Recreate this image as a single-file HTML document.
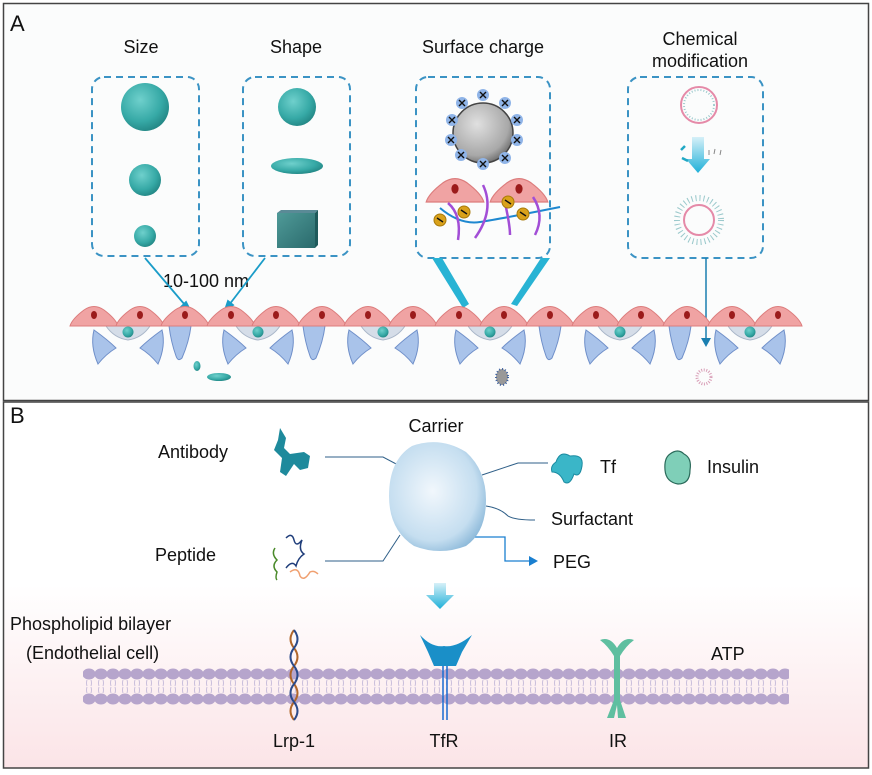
<!DOCTYPE html>
<html><head><meta charset="utf-8"><style>
html,body{margin:0;padding:0;background:#fff}
svg{display:block}
text{font-family:"Liberation Sans",Arial,sans-serif;fill:#111}
</style></head><body>
<svg width="872" height="775" viewBox="0 0 872 775" xmlns="http://www.w3.org/2000/svg">
<defs>
<radialGradient id="teal" cx="0.4" cy="0.35" r="0.75"><stop offset="0" stop-color="#6fd0cc"/><stop offset="0.6" stop-color="#36a9a6"/><stop offset="1" stop-color="#1d7c7b"/></radialGradient>
<radialGradient id="gray" cx="0.4" cy="0.35" r="0.75"><stop offset="0" stop-color="#e0e0e0"/><stop offset="0.7" stop-color="#a8a8a8"/><stop offset="1" stop-color="#555"/></radialGradient>
<radialGradient id="carrier" cx="0.45" cy="0.45" r="0.65"><stop offset="0" stop-color="#f1f7fc"/><stop offset="0.7" stop-color="#c5def0"/><stop offset="1" stop-color="#7fb0d4"/></radialGradient>
<linearGradient id="pinkbg" x1="0" y1="0" x2="0" y2="1"><stop offset="0" stop-color="#fff"/><stop offset="0.5" stop-color="#fff"/><stop offset="1" stop-color="#fbe4e7"/></linearGradient>
<linearGradient id="arr" x1="0" y1="0" x2="0" y2="1"><stop offset="0" stop-color="#d6f0f8"/><stop offset="1" stop-color="#1fb0d8"/></linearGradient>
<linearGradient id="cube" x1="0" y1="0" x2="1" y2="1"><stop offset="0" stop-color="#4f9a98"/><stop offset="1" stop-color="#2a6a6c"/></linearGradient>
<g id="pink"><path d="M-24,10 Q-22,3 -10,-6 Q0,-13 10,-6 Q22,3 24,10 Z" fill="#f0a3a3" stroke="#dc7c7c" stroke-width="1"/><ellipse cx="0" cy="-1" rx="3" ry="4" fill="#9b1b1b"/></g>
<g id="bt"><path d="M-11,0 L11,0 Q9,16 2,32 Q-2,36 -4,30 Q-9,16 -11,0Z" fill="#a9c3ea" stroke="#6f8fc9" stroke-width="1"/></g>
<g id="pair">
<path d="M-22,0 L22,0 Q14,12 0,14 Q-14,12 -22,0Z" fill="#d5dde8" stroke="#a9b6c8"/>
<circle cx="0" cy="6" r="5.5" fill="url(#teal)"/>
<path d="M-34,4 Q-20,14 -12,22 Q-22,28 -30,38 Q-38,20 -34,4Z" fill="#a9c3ea" stroke="#6f8fc9"/>
<path d="M34,4 Q20,14 12,22 Q22,28 30,38 Q38,20 34,4Z" fill="#a9c3ea" stroke="#6f8fc9"/>
</g>
<g id="plus"><circle r="6" fill="#8fb4e8"/><path d="M-3,-3L3,3M3,-3L-3,3" stroke="#111" stroke-width="1.4"/></g>
<g id="minus"><circle r="6" fill="#d9a11a" stroke="#a87a0a"/><path d="M-3,-2L3,2" stroke="#111" stroke-width="1.4"/></g>
<pattern id="memT" x="83" y="668" width="12" height="12" patternUnits="userSpaceOnUse"><ellipse cx="6" cy="6" rx="6.6" ry="5.5" fill="#b6a5cc"/></pattern>
<pattern id="memB" x="83" y="693" width="12" height="12" patternUnits="userSpaceOnUse"><ellipse cx="6" cy="6" rx="6.6" ry="5.5" fill="#b6a5cc"/></pattern>
<pattern id="tails" x="83" y="680" width="12" height="13" patternUnits="userSpaceOnUse"><path d="M4,0 q-1,3 0,6 M8,0 q1,3 0,6 M4,7 q-1,3 0,6 M8,7 q1,3 0,6" stroke="#c9bedb" fill="none" stroke-width="1"/></pattern>
</defs>

<rect x="3.5" y="3.5" width="865" height="397" fill="#fbfcfc" stroke="#444" stroke-width="1.5"/>
<rect x="3.5" y="402" width="865" height="366" fill="url(#pinkbg)" stroke="#444" stroke-width="1.5"/>

<text x="10" y="31" font-size="22">A</text>
<text x="141" y="53" font-size="18" text-anchor="middle">Size</text>
<text x="296" y="53" font-size="18" text-anchor="middle">Shape</text>
<text x="483" y="53" font-size="18" text-anchor="middle">Surface charge</text>
<text x="700" y="45" font-size="18" text-anchor="middle">Chemical</text>
<text x="700" y="67" font-size="18" text-anchor="middle">modification</text>

<g fill="none" stroke="#3b93c4" stroke-width="2" stroke-dasharray="7,5">
<rect x="92" y="77" width="107" height="179" rx="12"/>
<rect x="243" y="77" width="107" height="179" rx="12"/>
<rect x="416" y="77" width="134" height="181" rx="12"/>
<rect x="628" y="77" width="135" height="181" rx="12"/>
</g>

<circle cx="145" cy="107" r="24" fill="url(#teal)"/>
<circle cx="145" cy="180" r="16" fill="url(#teal)"/>
<circle cx="145" cy="236" r="11" fill="url(#teal)"/>
<circle cx="297" cy="107" r="19" fill="url(#teal)"/>
<ellipse cx="297" cy="166" rx="26" ry="8" fill="url(#teal)"/>
<rect x="277" y="213" width="38" height="35" fill="url(#cube)"/>
<path d="M277,213 l4,-3 h37 l-3,3z" fill="#5a8a96"/>
<path d="M315,213 l3,-3 v35 l-3,3z" fill="#1f5a5b"/>

<circle cx="483" cy="133" r="30" fill="url(#gray)" stroke="#444" stroke-width="1.5"/>
<use href="#plus" x="483" y="95"/><use href="#plus" x="462" y="103"/><use href="#plus" x="505" y="103"/>
<use href="#plus" x="452" y="120"/><use href="#plus" x="517" y="120"/><use href="#plus" x="451" y="140"/>
<use href="#plus" x="517" y="140"/><use href="#plus" x="461" y="155"/><use href="#plus" x="505" y="158"/><use href="#plus" x="483" y="164"/>
<g transform="translate(455,190) scale(1.2)"><use href="#pink"/></g>
<g transform="translate(519,190) scale(1.2)"><use href="#pink"/></g>
<path d="M440,208 Q460,225 480,222 T560,207" stroke="#1e88d0" stroke-width="2" fill="none"/>
<g stroke="#a24ed6" stroke-width="2.5" fill="none">
<path d="M448,203 Q462,215 458,240"/><path d="M483,185 Q495,210 475,238"/><path d="M505,203 Q510,225 510,235"/><path d="M533,197 Q545,215 535,235"/></g>
<use href="#minus" x="440" y="220"/><use href="#minus" x="464" y="212"/><use href="#minus" x="508" y="202"/><use href="#minus" x="523" y="214"/>

<circle cx="699" cy="105" r="18" fill="none" stroke="#e58aa8" stroke-width="2"/>
<circle cx="699" cy="105" r="15" fill="none" stroke="#9bc9cc" stroke-width="2" stroke-dasharray="1,2"/>
<path d="M692,137 h12 v22 h6 l-12,14 l-12,-14 h6z" fill="url(#arr)"/>
<path d="M685,146 l-4,4 M682,158 l6,3" stroke="#21a8c4" stroke-width="2.5"/>
<path d="M709,150 l0,5 M715,149 l-1,5 M721,150 l-1,5" stroke="#888" stroke-width="1"/>
<circle cx="699" cy="220" r="15" fill="none" stroke="#e58aa8" stroke-width="2"/>
<circle cx="699" cy="220" r="22" fill="none" stroke="#9bc9cc" stroke-width="6" stroke-dasharray="1,3"/>

<text x="206" y="287" font-size="18" text-anchor="middle">10-100 nm</text>
<g stroke="#1a9cc8" stroke-width="1.8" fill="#1a9cc8">
<line x1="145" y1="258" x2="185" y2="305"/><path d="M190,310 l-9,-3 l5,-5z"/>
<line x1="265" y1="258" x2="229" y2="305"/><path d="M225,310 l3,-9 l5,4z"/>
</g>
<path d="M432,258 L463,308 L469,304 L442,258Z" fill="#28b3d4"/>
<path d="M541,258 L511,304 L517,306 L550,258Z" fill="#28b3d4"/>
<line x1="706" y1="258" x2="706" y2="340" stroke="#1a7fb0" stroke-width="1.5"/>
<path d="M701,338 h10 l-5,9z" fill="#1a7fb0"/>

<g>
<use href="#pair" x="128" y="326"/><use href="#bt" x="180" y="326"/>
<use href="#pair" x="258" y="326"/><use href="#bt" x="314" y="326"/>
<use href="#pair" x="383" y="326"/>
<use href="#pair" x="490" y="326"/><use href="#bt" x="550" y="326"/>
<use href="#pair" x="620" y="326"/><use href="#bt" x="680" y="326"/>
<use href="#pair" x="750" y="326"/>
</g>
<g>
<use href="#pink" x="94" y="316"/><use href="#pink" x="140" y="316"/><use href="#pink" x="185" y="316"/><use href="#pink" x="231" y="316"/>
<use href="#pink" x="276" y="316"/><use href="#pink" x="322" y="316"/><use href="#pink" x="368" y="316"/><use href="#pink" x="413" y="316"/>
<use href="#pink" x="459" y="316"/><use href="#pink" x="504" y="316"/><use href="#pink" x="550" y="316"/><use href="#pink" x="596" y="316"/>
<use href="#pink" x="641" y="316"/><use href="#pink" x="687" y="316"/><use href="#pink" x="732" y="316"/><use href="#pink" x="778" y="316"/>
</g>
<ellipse cx="197" cy="366" rx="3.5" ry="5" fill="url(#teal)"/>
<ellipse cx="219" cy="377" rx="12" ry="4" fill="url(#teal)"/>
<ellipse cx="502" cy="377" rx="6" ry="8" fill="#999" stroke="#3b5fa0" stroke-width="2" stroke-dasharray="1,2"/>
<circle cx="704" cy="377" r="7" fill="none" stroke="#d9a0b8" stroke-width="3" stroke-dasharray="1,1.5"/>

<!-- Panel B -->
<text x="10" y="423" font-size="22">B</text>
<text x="436" y="432" font-size="18" text-anchor="middle">Carrier</text>
<text x="158" y="458" font-size="18">Antibody</text>
<text x="600" y="473" font-size="18">Tf</text>
<text x="707" y="473" font-size="18">Insulin</text>
<text x="551" y="525" font-size="18">Surfactant</text>
<text x="155" y="561" font-size="18">Peptide</text>
<text x="553" y="568" font-size="18">PEG</text>

<g stroke="#2f5f88" stroke-width="1" fill="none">
<path d="M325,457 H383 L400,466"/>
<path d="M482,475 L518,463 H548"/>
<path d="M486,506 Q500,508 508,516 Q515,520 535,520"/>
<path d="M325,561 H383 L400,535"/>
</g>
<path d="M470,537 H505 V561 H530" stroke="#1a7fd0" stroke-width="1.3" fill="none"/>
<path d="M529,556 l9,5 l-9,5z" fill="#1a7fd0"/>
<path d="M389,496 Q389,460 412,446 Q440,436 466,452 Q486,470 486,500 Q486,532 466,546 Q440,556 414,546 Q389,530 389,496Z" fill="url(#carrier)"/>
<path d="M280,428 l6,10 l-2,10 l6,6 l14,-2 l6,4 l-2,12 l-8,2 l-6,-6 l-8,12 l-6,-4 l2,-14 l-8,-8 l4,-10z" fill="#1e8a9c"/>
<path d="M556,462 Q560,450 570,456 Q584,454 582,466 Q580,478 574,474 Q570,486 564,482 Q560,472 552,472 Q550,466 556,462Z" fill="#3ab6c8" stroke="#1a8aa0"/>
<path d="M670,454 Q678,448 684,454 Q692,458 690,470 Q690,484 678,484 Q666,482 665,470 Q664,458 670,454Z" fill="#7fcfb8" stroke="#2a6a5a" stroke-width="1.2"/>
<g fill="none" stroke-width="1.5">
<path d="M286,538 q6,-6 8,2 q2,8 8,0 q-4,10 2,14 q-6,4 -8,12 q-4,-6 -10,2" stroke="#1f3d7a"/>
<path d="M275,548 q-4,6 2,12 q-6,6 0,12 q-2,6 0,8" stroke="#4a8a2a"/>
<path d="M290,572 q8,-6 10,4 q4,6 10,-4 q4,-2 8,2" stroke="#f0a070"/>
</g>
<path d="M434,583 h12 v12 h8 l-14,14 l-14,-14 h8z" fill="url(#arr)"/>

<text x="10" y="630" font-size="18">Phospholipid bilayer</text>
<text x="26" y="659" font-size="18">(Endothelial cell)</text>
<text x="711" y="660" font-size="18">ATP</text>

<rect x="83" y="668" width="706" height="12" fill="url(#memT)"/>
<rect x="83" y="680" width="706" height="13" fill="url(#tails)"/>
<rect x="83" y="693" width="706" height="12" fill="url(#memB)"/>

<g fill="none" stroke-width="2">
<path d="M294,630 q-7,9 0,18 q7,9 0,18 q-7,9 0,18 q7,9 0,18 q-7,9 0,18" stroke="#b0662a"/>
<path d="M294,630 q7,9 0,18 q-7,9 0,18 q7,9 0,18 q-7,9 0,18 q7,9 0,18" stroke="#2a4a8a"/>
</g>
<path d="M420,635 Q432,648 444,646 Q456,648 472,635 L462,652 L456,666 H434 L428,652Z" fill="#1a8fc8"/>
<line x1="443" y1="666" x2="443" y2="720" stroke="#1a6ad0" stroke-width="1.5"/>
<line x1="447" y1="666" x2="447" y2="720" stroke="#1a6ad0" stroke-width="1.5"/>
<path d="M600,640 Q610,636 617,648 Q624,636 634,640 Q626,646 620,656 L620,700 L626,718 L618,718 L617,705 L614,718 L607,718 L614,700 L614,656 Q608,646 600,640Z" fill="#5fbfa0"/>

<text x="294" y="747" font-size="18" text-anchor="middle">Lrp-1</text>
<text x="444" y="747" font-size="18" text-anchor="middle">TfR</text>
<text x="618" y="747" font-size="18" text-anchor="middle">IR</text>
</svg>
</body></html>
